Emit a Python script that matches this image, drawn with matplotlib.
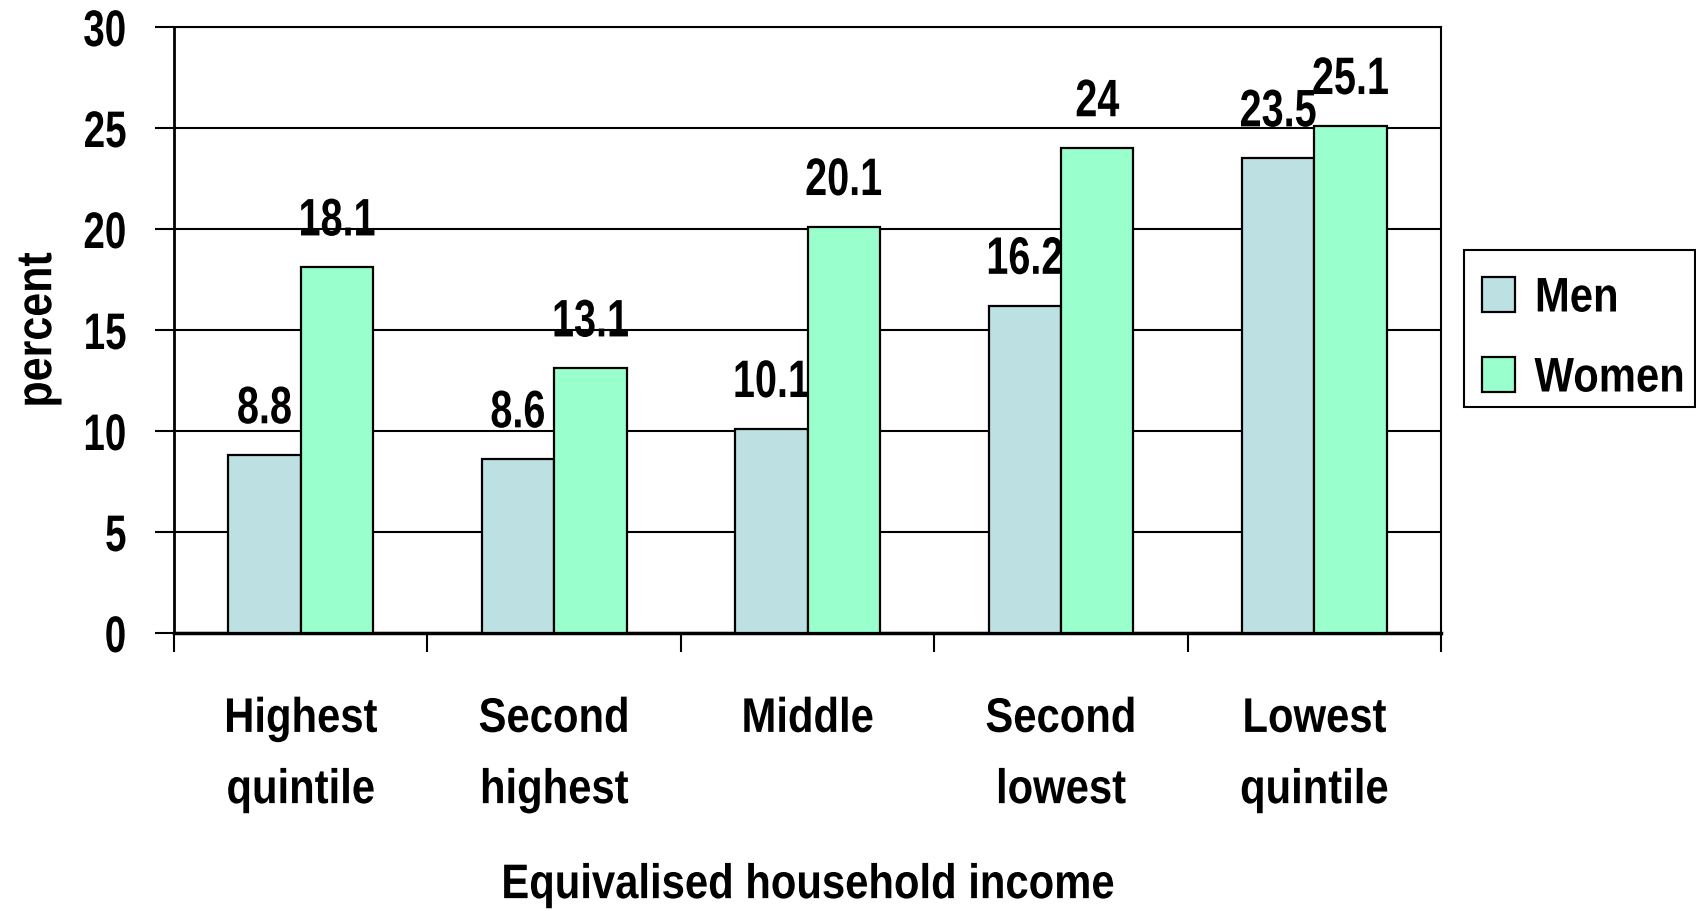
import numpy as np
import matplotlib
matplotlib.use("Agg")
import matplotlib.pyplot as plt
from matplotlib.ticker import FixedLocator, NullFormatter
from matplotlib.patheffects import AbstractPathEffect
from matplotlib.transforms import Affine2D
from matplotlib.patches import Rectangle

plt.rcParams['font.family'] = ['Liberation Sans', 'DejaVu Sans']
plt.rcParams['font.weight'] = 'bold'

# данные
categories = ["Highest\nquintile", "Second\nhighest", "Middle", "Second\nlowest", "Lowest\nquintile"]
men = [8.8, 8.6, 10.1, 16.2, 23.5]
women = [18.1, 13.1, 20.1, 24.0, 25.1]
men_labels = ["8.8", "8.6", "10.1", "16.2", "23.5"]
women_labels = ["18.1", "13.1", "20.1", "24", "25.1"]
yticks = [0, 5, 10, 15, 20, 25, 30]


class Squeeze(AbstractPathEffect):
    # сжатие текста по горизонтали (нет узкого шрифта)
    def __init__(self, sx, anchor="center"):
        super().__init__()
        self.sx = sx
        self.anchor = anchor

    def draw_path(self, renderer, gc, tpath, affine, rgbFace=None):
        ext = tpath.get_extents()
        cx = {"left": ext.x0, "right": ext.x1}.get(self.anchor, (ext.x0 + ext.x1) / 2)
        t = Affine2D().translate(-cx, 0).scale(self.sx, 1).translate(cx, 0) + affine
        renderer.draw_path(gc, tpath, t, rgbFace)


SX_NUM, SX_TXT = 0.75, 0.86

W, H = 1696, 911
fig = plt.figure(figsize=(W / 100, H / 100), dpi=100)
ax = fig.add_axes([174 / W, 1 - 633 / H, (1441 - 174) / W, (633 - 27) / H])

x = np.arange(len(categories))
bw = 1 / 3.5
b1 = ax.bar(x - bw / 2, men, bw, color="#BDE0E3", edgecolor="black", linewidth=1.6, label="Men", zorder=3)
b2 = ax.bar(x + bw / 2, women, bw, color="#99FFCC", edgecolor="black", linewidth=1.6, label="Women", zorder=3)

for bars, labs in ((b1, men_labels), (b2, women_labels)):
    for r, t in zip(bars, labs):
        ax.annotate(t, (r.get_x() + r.get_width() / 2, r.get_height()), xytext=(0, 23),
                    textcoords="offset points", ha="center", va="baseline",
                    fontsize=38, fontweight="bold", zorder=5,
                    path_effects=[Squeeze(SX_NUM)])

ax.set_xlim(-0.5, len(categories) - 0.5)
ax.set_ylim(0, 30)
ax.set_yticks(yticks)
ax.yaxis.grid(True, color="black", linewidth=1.5, zorder=1)
ax.set_axisbelow(True)

# деления по границам категорий, подписи по центрам
ax.xaxis.set_major_locator(FixedLocator(np.arange(-0.5, len(categories), 1)))
ax.xaxis.set_major_formatter(NullFormatter())
ax.xaxis.set_minor_locator(FixedLocator(x))
ax.set_xticklabels(categories, minor=True, fontsize=35, fontweight="bold", linespacing=1.75)
ax.tick_params(axis="x", which="major", length=14, width=1.5, direction="out")
ax.tick_params(axis="x", which="minor", length=0, pad=46)
ax.tick_params(axis="y", length=14, width=1.5, pad=20, labelsize=37)
for lab in ax.get_xticklabels(minor=True):
    lab.set_path_effects([Squeeze(SX_TXT)])
for lab in ax.get_yticklabels():
    lab.set_fontweight("bold")
    lab.set_path_effects([Squeeze(SX_NUM, "right")])

for s in ("top", "right"):
    ax.spines[s].set_linewidth(1.5)
ax.spines["left"].set_linewidth(2)
ax.spines["bottom"].set_linewidth(2.5)

ax.set_xlabel("Equivalised household income", fontsize=35, fontweight="bold", labelpad=36,
              path_effects=[Squeeze(SX_TXT)])
ax.set_ylabel("percent", fontsize=36, fontweight="bold", labelpad=6,
              path_effects=[Squeeze(SX_TXT)])

# легенда: рамка отдельно, содержимое без рамки
fig.patches.append(Rectangle((1464 / W, 1 - 407 / H), (1695 - 1464) / W, (407 - 250) / H,
                             transform=fig.transFigure, fill=False, edgecolor="black",
                             linewidth=1.5, zorder=5))
leg = fig.legend(loc="center left", bbox_to_anchor=(1482 / W, 1 - 339 / H),
                 fontsize=35, frameon=False, handlelength=0.68, handleheight=0.72,
                 handletextpad=0.4, borderpad=0, labelspacing=0.72, borderaxespad=0)
for t in leg.get_texts():
    t.set_fontweight("bold")
    t.set_path_effects([Squeeze(SX_TXT, "left")])

fig.savefig("out.png", dpi=100)
